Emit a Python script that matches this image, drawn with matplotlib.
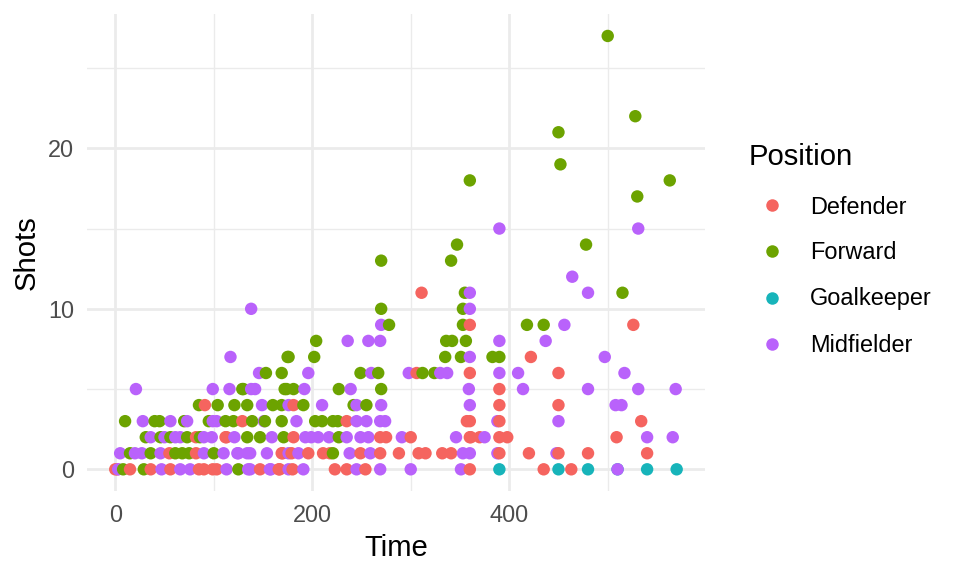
import matplotlib
matplotlib.use("Agg")
import matplotlib.pyplot as plt
from matplotlib.lines import Line2D
import pandas as pd

plt.rcParams['font.family'] = ['Liberation Sans', 'DejaVu Sans']

positions = ["Defender", "Forward", "Goalkeeper", "Midfielder"]
colors = {"Defender": "#F5645F", "Forward": "#6CA300",
          "Goalkeeper": "#17B4BA", "Midfielder": "#B962FB"}

defender_time = [311, 360, 526, 422, 360, 450, 390, 390, 450, 357, 360, 390, 534, 360, 370, 390, 398, 509,
                 315, 332, 341, 390, 420, 450, 480, 540, 360, 435, 463,
                 91, 129, 82, 112, 55, 82, 170, 0, 15, 36, 56, 90, 103, 147, 166,
                 306, 181, 235, 181, 269, 300, 169, 179, 196, 211, 218, 249, 269, 288, 308,
                 167, 180, 223, 235, 254, 275, 361, 113, 99, 85, 2]
defender_shots = [11, 9, 9, 7, 6, 6, 5, 4, 4, 3, 3, 3, 3, 2, 2, 2, 2, 2,
                  1, 1, 1, 1, 1, 1, 1, 1, 0, 0, 0,
                  4, 3, 2, 2, 1, 1, 1, 0, 0, 0, 0, 0, 0, 0, 0,
                  6, 4, 3, 2, 2, 2, 1, 1, 1, 1, 1, 1, 1, 1, 1,
                  0, 0, 0, 0, 0, 2, 2, 2, 0, 0, 0]

forward_time = [500, 528, 450, 452, 360, 563, 530, 478, 347, 341, 515, 355, 353, 353, 418, 435, 336, 342, 356,
                335, 351, 383, 390, 312, 324,
                270, 270, 278, 204, 176, 202, 249, 267, 172, 181, 227, 270, 191, 242, 255, 203, 210, 221, 226,
                227, 221,
                175, 153, 169, 130, 174, 85, 104, 121, 134, 160, 169, 10, 40, 45, 70, 95, 112, 139, 169,
                31, 46, 56, 73, 86, 134, 147, 171, 15, 36, 61, 68, 75, 100, 8, 29, 125, 129, 152, 120]
forward_shots = [27, 22, 21, 19, 18, 18, 17, 14, 14, 13, 11, 11, 10, 9, 9, 9, 8, 8, 8,
                 7, 7, 7, 7, 6, 6,
                 13, 10, 9, 8, 7, 7, 6, 6, 5, 5, 5, 5, 4, 4, 4, 3, 3, 3, 3,
                 2, 1,
                 7, 6, 6, 5, 5, 4, 4, 4, 4, 4, 4, 3, 3, 3, 3, 3, 3, 3, 3,
                 2, 2, 2, 2, 2, 2, 2, 2, 1, 1, 1, 1, 1, 1, 0, 0, 0, 5, 3, 3]

goalkeeper_time = [390, 450, 480, 510, 540, 570]
goalkeeper_shots = [0, 0, 0, 0, 0, 0]

midfielder_time = [390, 531, 464, 480, 360, 360, 456, 390, 437, 360, 497, 337, 330, 390, 409, 517,
                   359, 414, 480, 531, 569, 360, 508, 514, 450, 388, 346, 375, 540, 566, 353, 360, 388, 448,
                   351, 510,
                   270, 236, 257, 269, 196, 260, 298, 192, 239, 210, 245, 270, 184, 245, 255, 269, 274,
                   193, 199, 206, 217, 235, 249, 257, 291, 186, 238, 259, 191, 245, 269, 300,
                   138, 117, 146, 21, 99, 116, 138, 142, 149, 176, 28, 56, 73, 99, 103, 151,
                   36, 50, 61, 66, 90, 98, 121, 159, 5, 20, 27, 46, 90, 110, 125, 137, 154, 176,
                   3, 47, 66, 76, 113, 137, 158, 176, 135, 157, 124, 134]
midfielder_shots = [15, 15, 12, 11, 11, 10, 9, 8, 8, 7, 7, 6, 6, 6, 6, 6,
                    5, 5, 5, 5, 5, 4, 4, 4, 3, 3, 2, 2, 2, 2, 1, 1, 1, 1,
                    0, 0,
                    9, 8, 8, 8, 6, 6, 6, 5, 5, 4, 4, 4, 3, 3, 3, 3, 3,
                    2, 2, 2, 2, 2, 2, 2, 2, 1, 1, 1, 0, 0, 0, 0,
                    10, 7, 6, 5, 5, 5, 5, 5, 4, 4, 3, 3, 3, 3, 3, 3,
                    2, 2, 2, 2, 2, 2, 2, 2, 1, 1, 1, 1, 1, 1, 1, 1, 1, 1,
                    0, 0, 0, 0, 0, 0, 0, 0, 0, 0, 1, 1]

series = {
    "Defender": (defender_time, defender_shots),
    "Forward": (forward_time, forward_shots),
    "Goalkeeper": (goalkeeper_time, goalkeeper_shots),
    "Midfielder": (midfielder_time, midfielder_shots),
}
frames = []
for pos, (t, s) in series.items():
    frames.append(pd.DataFrame({"Time": t, "Shots": s, "Position": pos}))
df = pd.concat(frames, ignore_index=True)
df = df.sort_values(["Time", "Position"], kind="stable")

fig = plt.figure(figsize=(9.6, 5.76), dpi=100)
ax = fig.add_axes([0.0908, 0.1476, 0.6433, 0.8276])

grid_c = "#EBEBEB"
for v in [100, 300, 500]:
    ax.axvline(v, color=grid_c, lw=1.0, zorder=0)
for v in [0, 200, 400]:
    ax.axvline(v, color=grid_c, lw=2.0, zorder=0)
for v in [5, 15, 25]:
    ax.axhline(v, color=grid_c, lw=1.0, zorder=0)
for v in [0, 10, 20]:
    ax.axhline(v, color=grid_c, lw=2.0, zorder=0)

ax.scatter(df["Time"], df["Shots"], c=df["Position"].map(colors), s=80, linewidths=0, zorder=2)

ax.set_xlim(-28.5, 598.5)
ax.set_ylim(-1.35, 28.35)
ax.set_xticks([0, 200, 400])
ax.set_yticks([0, 10, 20])
for sp in ax.spines.values():
    sp.set_visible(False)
ax.tick_params(length=0, labelsize=16.9, labelcolor="#4D4D4D")
ax.tick_params(axis="x", pad=9.3)
ax.tick_params(axis="y", pad=9.6)
ax.set_xlabel("Time", fontsize=21.1, labelpad=5.3)
ax.set_ylabel("Shots", fontsize=21.1, labelpad=5.3)

# legend
fig.text(749 / 960, 1 - 165 / 576, "Position", fontsize=21.1, ha="left", va="baseline")
key_y = [205, 251, 297.5, 343.5]
lab_y = [213.5, 259.5, 305.5, 351.5]
for i, pos in enumerate(positions):
    fig.add_artist(Line2D([771.5 / 960], [1 - key_y[i] / 576], transform=fig.transFigure, marker="o",
                          markersize=9, markerfacecolor=colors[pos], markeredgewidth=0,
                          linestyle="none"))
    fig.text(810 / 960, 1 - lab_y[i] / 576, pos, fontsize=16.9, ha="left", va="baseline")

fig.savefig("out.png", dpi=100)
